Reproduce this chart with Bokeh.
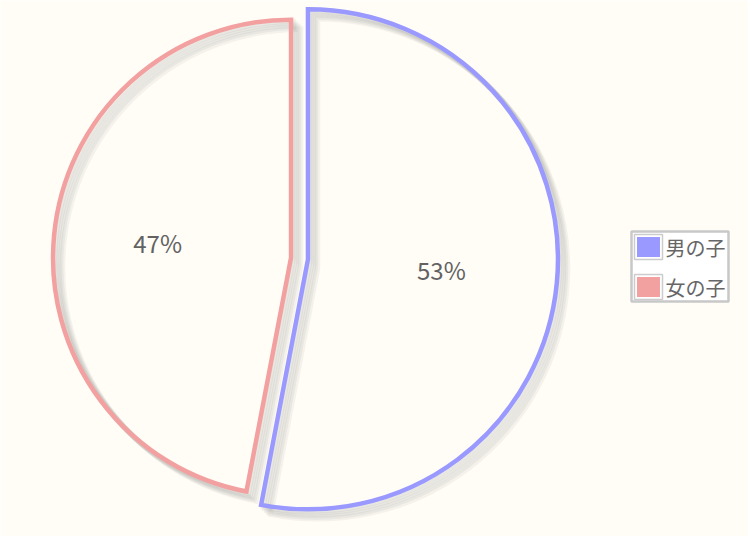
import math
from bokeh.plotting import figure
from bokeh.models import Range1d
from bokeh.core.properties import value
from bokeh.embed import file_html
from bokeh.resources import INLINE

# ---- data ----
categories = ["男の子", "女の子"]
shares = [53, 47]
pct_labels = ["53%", "47%"]
colors = ["#9999ff", "#f2a0a0"]

# ---- layout (reference pixels, y downward; data y = -pixel y) ----
W, H = 748, 536
BG = "#fffdf6"
CX, CY = 299.0, 258.0          # pie centre
EXPLODE = 8.5                   # slice margin
RADII = [250.0, 238.0]          # drawn radius per slice
LABEL_DIST = 134.0
LABEL_LIFT = 2.5
LW = 4.5

p = figure(width=W, height=H, output_backend="svg", toolbar_location=None,
           x_range=Range1d(0, W), y_range=Range1d(-H, 0),
           min_border=0, background_fill_color=BG, border_fill_color=BG,
           outline_line_color=None)
p.axis.visible = False
p.xgrid.visible = False
p.ygrid.visible = False

total = float(sum(shares))
cum = 0.0
xs, ys, starts, ends, lx, ly = [], [], [], [], [], []
for v in shares:
    a0 = math.pi / 2 - 2 * math.pi * cum / total
    cum += v
    a1 = math.pi / 2 - 2 * math.pi * cum / total
    bis = (a0 + a1) / 2
    cx = CX + EXPLODE * math.cos(bis)
    cy = -CY + EXPLODE * math.sin(bis)
    xs.append(cx); ys.append(cy); starts.append(a0); ends.append(a1)
    lx.append(cx + LABEL_DIST * math.cos(bis))
    ly.append(cy + LABEL_DIST * math.sin(bis) + LABEL_LIFT)

# shadows (offset toward bottom-right, several faint passes)
for k in range(1, 6):
    d = 1.9 * k
    p.wedge(x=[x + d for x in xs], y=[y - d for y in ys], radius=RADII,
            start_angle=starts, end_angle=ends, direction="clock",
            fill_color=None, line_color="#4a4a44", line_alpha=0.06,
            line_width=LW + 1, line_join="miter")

# slices (outline only)
p.wedge(x=xs, y=ys, radius=RADII, start_angle=starts, end_angle=ends,
        direction="clock", fill_color=None, line_color=colors,
        line_width=LW, line_join="miter")

# percentage labels
p.text(x=lx, y=ly, text=pct_labels, text_align="center", text_baseline="middle",
       text_font=value("Noto Sans CJK JP"), text_font_size="24px",
       text_color="#626262")

# legend (drawn by hand to match swatch style)
LX0, LX1, LY0, LY1 = 631, 728, 231, 301
p.quad(left=[LX0], right=[LX1], top=[-LY0], bottom=[-LY1],
       fill_color="#ffffff", line_color="#c8c8c8", line_width=2.5)
for i, (cat, col) in enumerate(zip(categories, colors)):
    top = 234 + 40 * i
    p.quad(left=[634], right=[662], top=[-top], bottom=[-(top + 25)],
           fill_color="#ffffff", line_color="#cccccc", line_width=1.5)
    p.quad(left=[636.5], right=[659.5], top=[-(top + 2.5)], bottom=[-(top + 22.5)],
           fill_color=col, line_color=None)
    p.text(x=[665], y=[-(top + 13)], text=[cat], text_align="left",
           text_baseline="middle", text_font=value("Noto Sans CJK JP"),
           text_font_size="20px", text_color="#666666")

open("out.html", "w").write(file_html(p, INLINE))
